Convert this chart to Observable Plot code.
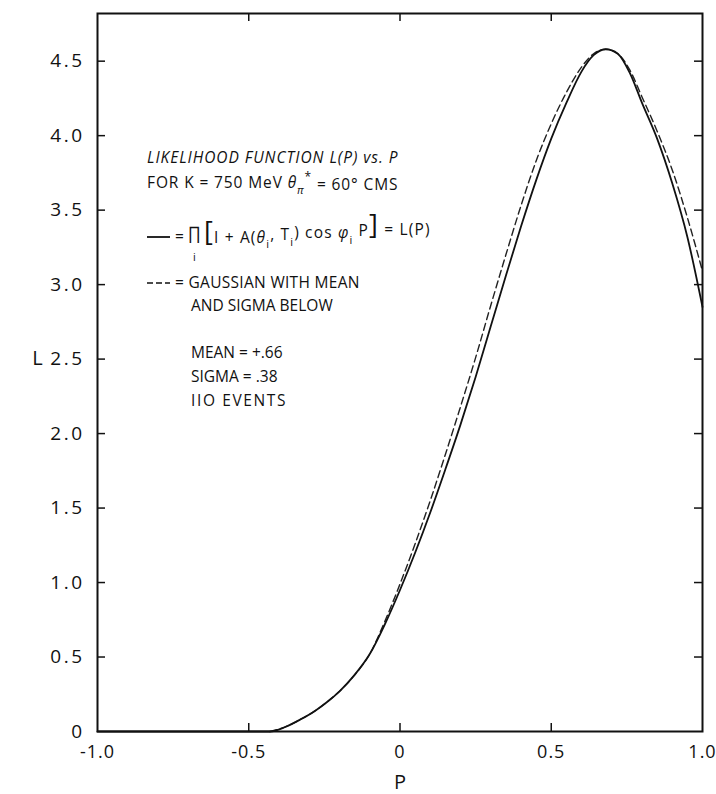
<!DOCTYPE html>
<html><head><meta charset="utf-8">
<script src="https://cdn.jsdelivr.net/npm/d3@7"></script>
<script src="https://cdn.jsdelivr.net/npm/@observablehq/plot@0.6"></script>
<style>
body{margin:0;background:#fff;}
#chart{position:relative;width:716px;height:794px;}
</style></head><body><div id="chart"></div>
<script>
// ---- data ----
const solidP = [-1.0, -0.43, -0.38, -0.33, -0.28, -0.24, -0.20, -0.15, -0.10, -0.05, 0.00, 0.05, 0.10, 0.15, 0.20, 0.25, 0.30, 0.35, 0.40, 0.45, 0.50, 0.55, 0.60, 0.64, 0.68, 0.72, 0.76, 0.80, 0.85, 0.90, 0.95, 1.00];
const solidL = [0.00, 0.00, 0.03, 0.08, 0.14, 0.20, 0.27, 0.38, 0.52, 0.72, 0.95, 1.20, 1.47, 1.76, 2.06, 2.38, 2.72, 3.06, 3.39, 3.70, 3.98, 4.22, 4.43, 4.54, 4.58, 4.55, 4.42, 4.22, 3.98, 3.68, 3.32, 2.85];
const gaussP = [-0.43, -0.38, -0.33, -0.28, -0.24, -0.20, -0.15, -0.10, -0.05, 0.00, 0.05, 0.10, 0.15, 0.20, 0.25, 0.30, 0.35, 0.40, 0.45, 0.50, 0.55, 0.60, 0.64, 0.68, 0.72, 0.76, 0.80, 0.85, 0.90, 0.95, 1.00];
const gaussL = [0.00, 0.03, 0.08, 0.14, 0.20, 0.27, 0.38, 0.52, 0.74, 0.99, 1.26, 1.55, 1.86, 2.18, 2.51, 2.86, 3.20, 3.53, 3.83, 4.08, 4.29, 4.46, 4.55, 4.58, 4.55, 4.44, 4.26, 4.03, 3.77, 3.45, 3.09];
const xTicks = [-1, -0.5, 0, 0.5, 1];
const xTickLabels = ["-1.0", "-0.5", "0", "0.5", "1.0"];
const yTicks = [0, 0.5, 1, 1.5, 2, 2.5, 3, 3.5, 4, 4.5];
const yTickLabels = ["0", "0.5", "1.0", "1.5", "2.0", "2.5", "3.0", "3.5", "4.0", "4.5"];
const xLabel = "P";
const yLabel = "L";
const xDomain = [-1, 1];
const yDomain = [0, 4.82];
const titleLines = ["LIKELIHOOD FUNCTION L(P) vs. P"];
const statsLines = ["MEAN = +.66", "SIGMA = .38", "IIO EVENTS"];

const solid = solidP.map((p, i) => ({p, l: solidL[i]}));
const dashed = gaussP.map((p, i) => ({p, l: gaussL[i]}));

const font = "'Open Sans', 'DejaVu Sans', sans-serif";
const W = 716, H = 794, mL = 97, mR = 14, mT = 13, mB = 63;
const innerW = W - mL - mR, innerH = H - mT - mB, tickLen = 8;
const innerX = xTicks.slice(1, -1), innerY = yTicks.slice(1);
const xL = xDomain[0], yBot = yDomain[0];

const tickStyle = {stroke: "#111", strokeWidth: 1.5};
const plot = Plot.plot({
  width: W, height: H,
  marginLeft: mL, marginRight: mR, marginTop: mT, marginBottom: mB,
  style: {fontFamily: font, fontSize: "19px", color: "#111", background: "#fff"},
  x: {domain: xDomain},
  y: {domain: yDomain},
  marks: [
    Plot.axisX(xTicks, {tickSize: 0, tickPadding: 14, label: null, fontSize: 18, tickFormat: d => xTickLabels[xTicks.indexOf(d)]}),
    Plot.axisY(yTicks, {tickSize: 0, tickPadding: 13, label: null, fontSize: 19, tickFormat: d => yTickLabels[yTicks.indexOf(d)]}),
    // inward tick marks on all four sides
    Plot.tickX(innerX, {x: d => d, insetTop: innerH - tickLen, ...tickStyle}),
    Plot.tickX(innerX, {x: d => d, insetBottom: innerH - tickLen, ...tickStyle}),
    Plot.tickY(innerY, {y: d => d, insetRight: innerW - tickLen, ...tickStyle}),
    Plot.tickY(innerY, {y: d => d, insetLeft: innerW - tickLen, ...tickStyle}),
    Plot.line(dashed, {x: "p", y: "l", curve: "monotone-x", stroke: "#222", strokeWidth: 1.4, strokeDasharray: "7,4"}),
    Plot.line(solid, {x: "p", y: "l", curve: "monotone-x", stroke: "#111", strokeWidth: 1.8}),
    Plot.frame({stroke: "#111", strokeWidth: 2}),
    Plot.text([yLabel], {x: () => xL, y: () => 2.5, text: d => d, dx: -60, fontSize: 20, textAnchor: "middle"}),
    Plot.text([xLabel], {x: () => 0, y: () => yBot, text: d => d, dy: 51, fontSize: 20, textAnchor: "middle"})
  ]
});
document.getElementById("chart").appendChild(plot);
d3.select(plot).selectAll("g[aria-label='y-axis tick label'] text").style("letter-spacing", "2.5px");
d3.select(plot).selectAll("g[aria-label='x-axis tick label'] text").style("letter-spacing", "1px");

// ---- annotation block ----
const svg = d3.select(plot);
const g = svg.append("g").attr("font-family", font).attr("font-size", 15.5).attr("fill", "#111")
  .attr("text-anchor", "start").style("letter-spacing", "0.5px");
function line(x, y, width) {
  const t = g.append("text").attr("x", x).attr("y", y).attr("dy", "0.35em");
  if (width) t.attr("data-w", width);
  return t;
}

line(147, 158, 251).attr("font-style", "italic").text(titleLines[0]);

const l2 = line(147, 183, 251);
l2.append("tspan").text("FOR K = 750 MeV ");
l2.append("tspan").attr("font-style", "italic").text("θ");
l2.append("tspan").attr("font-size", 11).attr("dy", "0.5em").attr("font-style", "italic").text("π");
l2.append("tspan").attr("font-size", 12).attr("dy", "-1.1em").text("*");
l2.append("tspan").attr("dy", "0.6em").text(" = 60° CMS");

g.append("line").attr("x1", 147).attr("x2", 170).attr("y1", 237).attr("y2", 237).attr("stroke", "#111").attr("stroke-width", 1.8);
line(175, 237).text("=");
line(188, 233).attr("font-size", 17).text("∏");
g.append("text").attr("x", 193).attr("y", 261).attr("font-size", 11).text("i");
const f = line(204, 236, 226);
f.append("tspan").attr("font-size", 27).text("[");
f.append("tspan").attr("font-size", 15.5).attr("dy", "0.07em").text("I + A(");
f.append("tspan").attr("font-style", "italic").text("θ");
f.append("tspan").attr("font-size", 11).attr("dy", "0.5em").text("i");
f.append("tspan").attr("dy", "-0.5em").text(", T");
f.append("tspan").attr("font-size", 11).attr("dy", "0.5em").text("i");
f.append("tspan").attr("dy", "-0.5em").text(") cos ");
f.append("tspan").attr("font-style", "italic").text("φ");
f.append("tspan").attr("font-size", 11).attr("dy", "0.5em").text("i");
f.append("tspan").attr("dy", "-0.5em").text(" P");
f.append("tspan").attr("font-size", 27).attr("dy", "-0.07em").text("]");
f.append("tspan").attr("font-size", 15.5).attr("dy", "0.07em").text(" = L(P)");

g.append("line").attr("x1", 147).attr("x2", 170).attr("y1", 283).attr("y2", 283).attr("stroke", "#111").attr("stroke-width", 1.4).attr("stroke-dasharray", "6,3");
line(175, 283, 185).text("= GAUSSIAN WITH MEAN");
line(191, 306, 134).text("AND SIGMA BELOW");

const statW = [92, 86, 95];
statsLines.forEach((s, i) => line(191, 353 + i * 24, statW[i]).text(s));

g.selectAll("text[data-w]").each(function() {
  const w = +this.getAttribute("data-w");
  const n = this.textContent.length;
  const cur = this.getComputedTextLength();
  const ls = Math.max(0, 0.5 + (w - cur) / Math.max(1, n - 1));
  this.style.letterSpacing = ls.toFixed(2) + "px";
});
</script>
</body></html>
